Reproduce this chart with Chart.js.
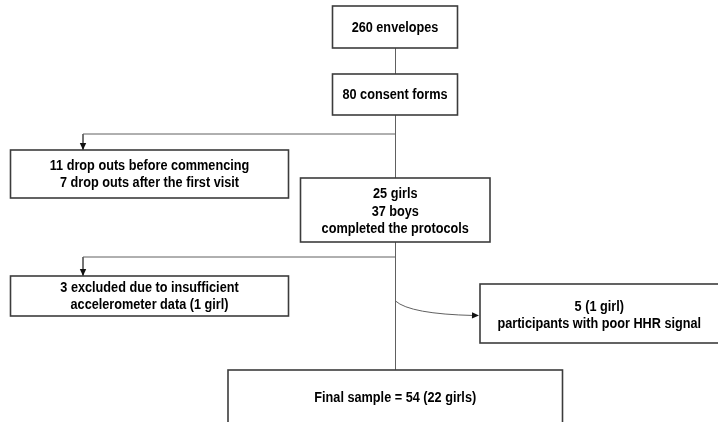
<!DOCTYPE html>
<html>
<head>
<meta charset="utf-8">
<script src="https://cdn.jsdelivr.net/npm/chart.js@4"></script>
<style>
html,body{margin:0;padding:0;background:#fff;}
#wrap{width:718px;height:422px;}
</style>
</head>
<body>
<div id="wrap"><canvas id="c" width="718" height="422"></canvas></div>
<script>
// Flowchart nodes (in chart units: x 0..718, y 0..422 top-down)
const boxLabels = [
  ["260 envelopes"],
  ["80 consent forms"],
  ["11 drop outs before commencing", "7 drop outs after the first visit"],
  ["25 girls", "37 boys", "completed the protocols"],
  ["3 excluded due to insufficient", "accelerometer data (1 girl)"],
  ["5 (1 girl)", "participants with poor HHR signal"],
  ["Final sample = 54 (22 girls)"]
];
const boxLeft   = [332.5, 332.5, 10.5, 300.5, 10.5, 480, 228];
const boxTop    = [6, 74, 150, 178, 276, 284, 370];
const boxRight  = [457.5, 457.5, 288.5, 490, 288.5, 720, 562.5];
const boxBottom = [48, 115, 198, 242, 316, 343, 424];
const textCenterY = [27.5, 94.5, 174.5, 211.5, 296.5, 315.5, 398];

// Connectors: straight polylines
const connectorX = [
  [395.5, 395.5],
  [395.5, 395.5],
  [395.5, 395.5],
  [395.5, 83, 83],
  [395.5, 83, 83]
];
const connectorY = [
  [48, 74],
  [115, 178],
  [242, 370],
  [134, 134, 150],
  [257, 257, 276]
];
const connectorArrow = [false, false, false, true, true];
// Curved connector (quadratic): start, control, end
const curveX = [395.5, 410, 479];
const curveY = [301, 314, 315.5];

const LINE = '#606060';
const BOX = '#3c3c3c';
const FONT = 'bold 14.5px "Liberation Sans", Arial, sans-serif';
const SQUEEZE = 0.875;

const datasets = connectorX.map((xs, i) => ({
  type: 'scatter',
  data: xs.map((x, j) => ({x: x, y: connectorY[i][j]})),
  showLine: true,
  borderColor: LINE,
  borderWidth: 1,
  pointRadius: 0,
  fill: false,
  tension: 0,
  arrow: connectorArrow[i]
}));

function arrowHead(ctx, x, y, dx, dy) {
  const len = Math.hypot(dx, dy) || 1;
  const ux = dx / len, uy = dy / len;
  const L = 7, W = 3.2;
  ctx.beginPath();
  ctx.moveTo(x, y);
  ctx.lineTo(x - ux * L - uy * W, y - uy * L + ux * W);
  ctx.lineTo(x - ux * L + uy * W, y - uy * L - ux * W);
  ctx.closePath();
  ctx.fillStyle = '#111';
  ctx.fill();
}

const flowPlugin = {
  id: 'flow',
  afterDatasetsDraw(chart) {
    const ctx = chart.ctx;
    const sx = chart.scales.x, sy = chart.scales.y;
    ctx.save();
    chart.data.datasets.forEach(ds => {
      if (!ds.arrow) return;
      const n = ds.data.length;
      const p1 = ds.data[n - 2], p2 = ds.data[n - 1];
      const x1 = sx.getPixelForValue(p1.x), y1 = sy.getPixelForValue(p1.y);
      const x2 = sx.getPixelForValue(p2.x), y2 = sy.getPixelForValue(p2.y);
      arrowHead(ctx, x2, y2, x2 - x1, y2 - y1);
    });
    const cx = curveX.map(v => sx.getPixelForValue(v));
    const cy = curveY.map(v => sy.getPixelForValue(v));
    ctx.beginPath();
    ctx.moveTo(cx[0], cy[0]);
    ctx.quadraticCurveTo(cx[1], cy[1], cx[2] - 5, cy[2]);
    ctx.strokeStyle = LINE;
    ctx.lineWidth = 1;
    ctx.stroke();
    arrowHead(ctx, cx[2], cy[2], cx[2] - cx[1], cy[2] - cy[1]);
    boxLabels.forEach((lines, i) => {
      const l = sx.getPixelForValue(boxLeft[i]);
      const r = sx.getPixelForValue(boxRight[i]);
      const t = sy.getPixelForValue(boxTop[i]);
      const b = sy.getPixelForValue(boxBottom[i]);
      ctx.fillStyle = '#fff';
      ctx.fillRect(l, t, r - l, b - t);
      ctx.strokeStyle = BOX;
      ctx.lineWidth = 1.6;
      ctx.strokeRect(l, t, r - l, b - t);
      ctx.fillStyle = '#000';
      ctx.font = FONT;
      ctx.textAlign = 'center';
      ctx.textBaseline = 'middle';
      const lh = 17.6;
      const tx = (l + sx.getPixelForValue(Math.min(boxRight[i], 718.5))) / 2;
      const cyy = sy.getPixelForValue(textCenterY[i]);
      lines.forEach((s, k) => {
        ctx.save();
        ctx.translate(tx, cyy + (k - (lines.length - 1) / 2) * lh);
        ctx.scale(SQUEEZE, 1);
        ctx.fillText(s, 0, 0);
        ctx.restore();
      });
    });
    ctx.restore();
  }
};

new Chart(document.getElementById('c'), {
  type: 'scatter',
  data: { datasets: datasets },
  options: {
    responsive: false,
    animation: false,
    layout: { padding: 0 },
    plugins: { legend: { display: false }, tooltip: { enabled: false } },
    scales: {
      x: { type: 'linear', min: 0, max: 718, display: false },
      y: { type: 'linear', min: 0, max: 422, reverse: true, display: false }
    }
  },
  plugins: [flowPlugin]
});
</script>
</body>
</html>
